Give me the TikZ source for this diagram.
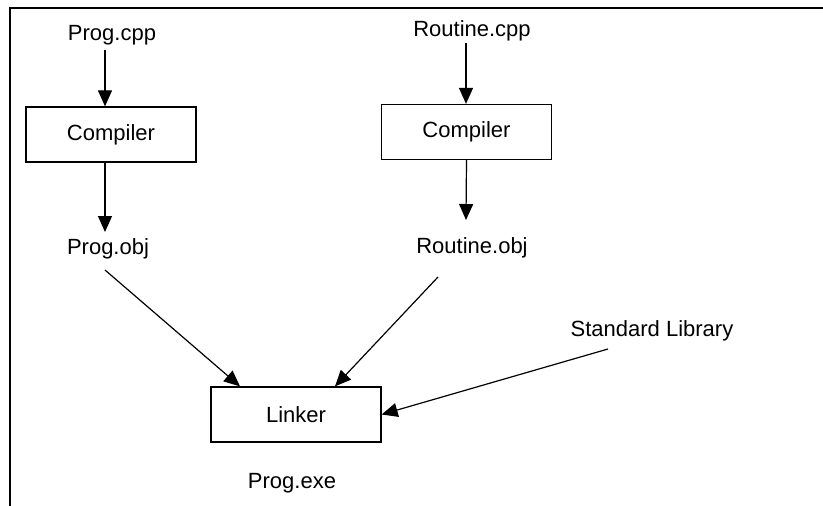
\documentclass[tikz,border=0pt]{standalone}
\usepackage{fontspec}
\setmainfont{Liberation Sans}
\usetikzlibrary{arrows.meta}
\begin{document}
\begin{tikzpicture}[x=1pt,y=-1pt,
  every node/.style={font=\fontsize{22}{26}\selectfont, inner sep=0pt},
  label/.style={anchor=base},
  procbox/.style={draw, line width=1.3pt, minimum width=170pt, minimum height=55pt},
  arr/.style={line width=1.2pt, -{Triangle[length=16pt,width=14pt]}}]
  \useasboundingbox (0,0) rectangle (823,506);

  % page frame (top and left edges)
  \draw[line width=1.5pt] (823,8) -- (10,8) -- (10,506);

  % source files
  \node[label] (pcpp) at (112,40) {Prog.cpp};
  \node[label] (rcpp) at (472,36) {Routine.cpp};

  % compilers
  \node[procbox] (c1) at (111,134.5) {Compiler};
  \node[procbox] (c2) at (466.5,132) {Compiler};

  % object files
  \node[label] (pobj) at (108,254) {Prog.obj};
  \node[label] (robj) at (472,253) {Routine.obj};

  % linker, library and result
  \node[procbox] (lk) at (296,414.5) {Linker};
  \node[label] (lib) at (652,336) {Standard Library};
  \node[label] (exe) at (292,488) {Prog.exe};

  % connector end points
  \coordinate (a1) at (105,50);
  \coordinate (a2) at (105,162);
  \coordinate (a3) at (105,232);
  \coordinate (b1) at (466,43);
  \coordinate (b3) at (466,220);
  \coordinate (d1) at (105,270);
  \coordinate (d2) at (438,277);
  \coordinate (d3) at (608,349);

  \draw[arr] (a1) -- (a1 |- c1.north);
  \draw[arr] (a2) -- (a3);
  \draw[arr] (b1) -- (b1 |- c2.north);
  \draw[arr] (c2.south) -- (b3);
  \draw[arr] (d1) -- ([xshift=-56pt]lk.north);
  \draw[arr] (d2) -- ([xshift=39pt]lk.north);
  \draw[arr] (d3) -- (lk.east);
\end{tikzpicture}
\end{document}
